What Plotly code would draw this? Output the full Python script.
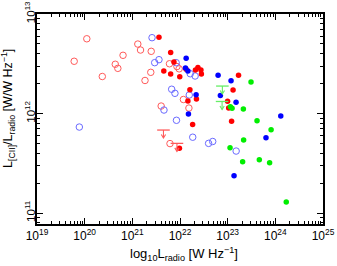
import plotly.graph_objects as go

# log10 L_radio [W/Hz] and log10 (L_CII/L_radio) [W / W Hz^-1]
red_open_x = [19.78, 20.045, 20.37, 20.642, 20.696, 20.805, 21.115, 21.172, 21.266, 21.396,
              21.387, 21.779, 21.936, 21.982, 22.072, 21.605, 22.187, 21.79]
red_open_y = [12.525, 12.751, 12.372, 12.495, 12.454, 12.585, 12.698, 12.638, 12.332, 12.625,
              12.414, 12.50, 12.472, 12.449, 12.141, 12.075, 12.055, 11.698]

blue_open_x = [21.413, 21.559, 21.469, 21.919, 22.215, 22.317, 21.825, 21.894, 22.194, 21.664,
               21.926, 22.267, 22.60, 22.686, 23.178, 19.888]
blue_open_y = [12.762, 12.541, 12.511, 12.511, 12.40, 12.377, 12.244, 12.203, 12.186, 12.035,
               11.932, 11.762, 11.70, 11.719, 11.623, 11.864]

red_fill_x = [21.559, 21.804, 21.873, 21.66, 21.804, 21.995, 22.129, 22.324, 22.376, 22.439,
              22.449, 23.228, 22.208, 22.345, 22.166, 22.265, 23.113, 22.998, 23.021, 23.082, 21.988]
red_fill_y = [12.766, 12.613, 12.518, 12.427, 12.397, 12.37, 12.445, 12.437, 12.462, 12.437,
              12.397, 12.384, 12.239, 12.146, 12.126, 11.889, 12.236, 12.123, 12.055, 11.923, 11.65]

blue_fill_x = [22.129, 22.114, 22.166, 22.799, 23.071, 22.847, 22.338, 23.176, 22.177, 24.114,
               23.804, 23.134]
blue_fill_y = [12.555, 12.457, 12.427, 12.384, 12.33, 12.181, 12.189, 12.113, 11.995, 11.975,
               11.757, 11.375]

green_fill_x = [23.49, 23.057, 23.092, 23.329, 23.616, 23.911, 23.335, 23.05, 23.314, 23.664,
                23.88, 24.229]
green_fill_y = [12.317, 12.068, 12.052, 12.045, 11.928, 11.836, 11.734, 11.656, 11.516, 11.536,
                11.506, 11.111]

# upper limits
red_lim_x = [21.653, 21.936]
red_lim_y = [11.834, 11.70]
green_lim_x = [22.889, 22.883]
green_lim_y = [12.276, 12.121]

x_decades = [19, 20, 21, 22, 23, 24, 25]
y_decades = [11, 12, 13]

x_title = "log<sub>10</sub>L<sub>radio</sub> [W Hz<sup>−1</sup>]"
y_title = "L<sub>[CII]</sub>/L<sub>radio</sub> [W/W Hz<sup>−1</sup>]"

arrow_len = 0.08   # decades (y)
head_dy = 0.035    # decades (y)
head_dx = 0.045    # decades (x)

RED = "#ff0000"
RED_OPEN = "#ff5a5a"
BLUE = "#0000ff"
BLUE_OPEN = "#6a6aff"
GREEN = "#00ee00"
GREEN_LIM = "#66ee66"


def p(v):
    return [10.0 ** a for a in v]


fig = go.Figure()


def add_open(xs, ys, col):
    fig.add_trace(go.Scatter(x=p(xs), y=p(ys), mode="markers",
                             marker=dict(symbol="circle-open", size=6.5, color=col,
                                         line=dict(width=1, color=col)),
                             showlegend=False, hoverinfo="skip"))


def add_fill(xs, ys, col):
    fig.add_trace(go.Scatter(x=p(xs), y=p(ys), mode="markers",
                             marker=dict(symbol="circle", size=5.5, color=col,
                                         line=dict(width=0)),
                             showlegend=False, hoverinfo="skip"))


add_open(red_open_x, red_open_y, RED_OPEN)
add_open(blue_open_x, blue_open_y, BLUE_OPEN)
add_fill(red_fill_x, red_fill_y, RED)
add_fill(blue_fill_x, blue_fill_y, BLUE)
add_fill(green_fill_x, green_fill_y, GREEN)


def add_limits(xs, ys, col):
    fig.add_trace(go.Scatter(x=p(xs), y=p(ys), mode="markers",
                             marker=dict(symbol="line-ew", size=9,
                                         line=dict(width=1.3, color=col)),
                             showlegend=False, hoverinfo="skip"))
    lx, ly = [], []
    for a, b in zip(xs, ys):
        tip = b - arrow_len
        lx += [a, a, None]
        ly += [b, tip, None]
        lx += [a - head_dx, a, a + head_dx, None]
        ly += [tip + head_dy, tip, tip + head_dy, None]
    fig.add_trace(go.Scatter(x=[10.0 ** v if v is not None else None for v in lx],
                             y=[10.0 ** v if v is not None else None for v in ly],
                             mode="lines", line=dict(color=col, width=1.1),
                             showlegend=False, hoverinfo="skip"))


add_limits(red_lim_x, red_lim_y, RED_OPEN)
add_limits(green_lim_x, green_lim_y, GREEN_LIM)

FONT = "Liberation Sans, Arial, sans-serif"


def minor_vals(decs):
    return [m * 10.0 ** d for d in decs[:-1] for m in range(2, 10)]


axis_common = dict(
    type="log", showgrid=False, zeroline=False, showline=True, linecolor="black",
    linewidth=1.5, mirror="allticks", ticks="inside", ticklen=6, tickwidth=1,
    tickcolor="black", ticklabeloverflow="allow", automargin=False,
)

fig.update_xaxes(**axis_common, range=[19, 25],
                 tickfont=dict(family=FONT, size=12, color="black"),
                 tickmode="array", tickvals=[10.0 ** d for d in x_decades],
                 ticktext=[f"10<sup>{d}</sup>" for d in x_decades],
                 minor=dict(ticks="inside", ticklen=3, tickwidth=1, tickcolor="black",
                            showgrid=False, tickmode="array",
                            tickvals=minor_vals(x_decades)))
fig.update_yaxes(**axis_common, range=[10.89, 13], tickangle=-90,
                 tickfont=dict(family=FONT, size=11.5, color="black"),
                 ticklabelstandoff=-4,
                 tickmode="array", tickvals=[10.0 ** d for d in y_decades],
                 ticktext=[f"10<sup>{d}</sup>" for d in y_decades],
                 minor=dict(ticks="inside", ticklen=3, tickwidth=1, tickcolor="black",
                            showgrid=False, tickmode="array",
                            tickvals=minor_vals([10, 11, 12, 13])))

fig.add_annotation(text=x_title, xref="paper", yref="paper", x=0.515, y=-0.143,
                   xanchor="center", yanchor="middle", showarrow=False,
                   font=dict(family=FONT, size=13, color="black"))
fig.add_annotation(text=y_title, xref="paper", yref="paper", x=-0.1, y=0.55,
                   xanchor="center", yanchor="middle", showarrow=False, textangle=-90,
                   font=dict(family=FONT, size=12.5, color="black"))

fig.update_layout(width=337, height=266, margin=dict(l=37, r=14, t=14, b=42),
                  plot_bgcolor="white", paper_bgcolor="white",
                  font=dict(family=FONT, size=12, color="black"))

fig.write_html("out.html", config={"displayModeBar": False},
               post_script="document.body.style.margin='0';"
                           "document.body.style.overflow='hidden';")
